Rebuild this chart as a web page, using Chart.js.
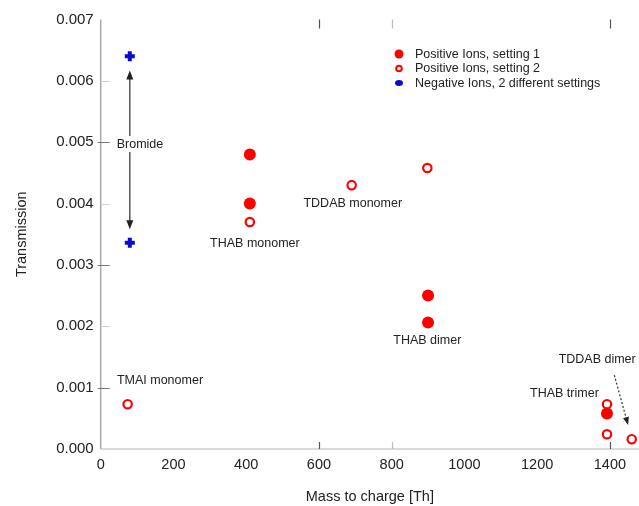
<!DOCTYPE html>
<html>
<head>
<meta charset="utf-8">
<script src="https://cdn.jsdelivr.net/npm/chart.js@4/dist/chart.umd.min.js"></script>
<style>
html,body{margin:0;padding:0;background:#fff;}
canvas{display:block;}
</style>
</head>
<body>
<canvas id="c" width="639" height="506"></canvas>
<script>
// ---- data ----
const seriesNames = ["Positive Ions, setting 1", "Positive Ions, setting 2", "Negative Ions, 2 different settings"];
const set1X = [410, 410, 900, 900, 1392];
const set1Y = [0.0048, 0.0040, 0.0025, 0.00206, 0.00058];
const set2X = [74, 410, 690, 898, 1392, 1392, 1460];
const set2Y = [0.00073, 0.0037, 0.0043, 0.00458, 0.00073, 0.00024, 0.00016];
const negX = [80, 80];
const negY = [0.0064, 0.00336];
const xTicks = [0, 200, 400, 600, 800, 1000, 1200, 1400];
const yTicks = [0, 0.001, 0.002, 0.003, 0.004, 0.005, 0.006, 0.007];
const labelTexts = ["Bromide", "THAB monomer", "TDDAB monomer", "THAB dimer", "TMAI monomer", "THAB trimer", "TDDAB dimer"];

// ---- layout of annotations (data coordinates) ----
const labelAt = [[108, 0.00497], [424, 0.003355], [693, 0.0040], [898, 0.001775], [163, 0.00112], [1275, 0.00091], [1365, 0.001466]];
const bromideArrow = [[80, 0.00617], [80, 0.00358]];
const tddabArrow = [[1412, 0.001205], [1450, 0.00039]];

const pts = (xs, ys) => xs.map((x, i) => ({x: x, y: ys[i]}));
const FONT = "'Liberation Sans', Arial, sans-serif";
const TXT = '#222';

function arrowHead(ctx, x1, y1, x2, y2, len, wid) {
  const a = Math.atan2(y2 - y1, x2 - x1);
  ctx.beginPath();
  ctx.moveTo(x2, y2);
  ctx.lineTo(x2 - len * Math.cos(a) + wid * Math.sin(a), y2 - len * Math.sin(a) - wid * Math.cos(a));
  ctx.lineTo(x2 - len * Math.cos(a) - wid * Math.sin(a), y2 - len * Math.sin(a) + wid * Math.cos(a));
  ctx.closePath();
  ctx.fill();
}

const decor = {
  id: 'decor',
  beforeDatasetsDraw(chart) {
    const {ctx, scales: {x, y}, chartArea: ca} = chart;
    ctx.save();
    // axes lines
    ctx.strokeStyle = '#dadada';
    ctx.lineWidth = 2;
    ctx.beginPath(); ctx.moveTo(ca.left, ca.bottom); ctx.lineTo(chart.width, ca.bottom); ctx.stroke();
    ctx.strokeStyle = '#a8a8a8';
    ctx.lineWidth = 1.5;
    ctx.beginPath(); ctx.moveTo(ca.left, ca.top); ctx.lineTo(ca.left, ca.bottom); ctx.stroke();
    // y ticks inside
    yTicks.forEach((v, i) => {
      if (v === 0 || v === 0.007) return;
      const py = Math.round(y.getPixelForValue(v)) + 0.5;
      const dark = (i % 2 === 1);
      ctx.strokeStyle = dark ? '#777' : '#d0d0d0';
      ctx.lineWidth = 1;
      ctx.beginPath(); ctx.moveTo(ca.left - (dark ? 3 : 0), py); ctx.lineTo(ca.left + 9, py); ctx.stroke();
    });
    // x ticks (top and bottom) visible in reference
    [600, 800, 1400].forEach((v) => {
      const px = Math.round(x.getPixelForValue(v)) + 0.5;
      ctx.strokeStyle = v === 800 ? '#bbb' : '#555';
      ctx.lineWidth = 1.2;
      ctx.beginPath(); ctx.moveTo(px, ca.top); ctx.lineTo(px, ca.top + 9); ctx.stroke();
      ctx.beginPath(); ctx.moveTo(px, ca.bottom - 7); ctx.lineTo(px, ca.bottom); ctx.stroke();
    });
    // bromide double arrow
    const bx = x.getPixelForValue(bromideArrow[0][0]);
    const by1 = y.getPixelForValue(bromideArrow[0][1]);
    const by2 = y.getPixelForValue(bromideArrow[1][1]);
    ctx.strokeStyle = '#555';
    ctx.fillStyle = '#222';
    ctx.lineWidth = 1.5;
    ctx.beginPath(); ctx.moveTo(bx, by1 + 6); ctx.lineTo(bx, by2 - 6); ctx.stroke();
    arrowHead(ctx, bx, by2, bx, by1, 9, 3.5);
    arrowHead(ctx, bx, by1, bx, by2, 9, 3.5);
    // TDDAB dimer dotted arrow
    const tx1 = x.getPixelForValue(tddabArrow[0][0]), ty1 = y.getPixelForValue(tddabArrow[0][1]);
    const tx2 = x.getPixelForValue(tddabArrow[1][0]), ty2 = y.getPixelForValue(tddabArrow[1][1]);
    ctx.setLineDash([2, 2]);
    ctx.strokeStyle = '#333';
    ctx.lineWidth = 1.2;
    ctx.beginPath(); ctx.moveTo(tx1, ty1); ctx.lineTo(tx1 + (tx2 - tx1) * 0.85, ty1 + (ty2 - ty1) * 0.85); ctx.stroke();
    ctx.setLineDash([]);
    arrowHead(ctx, tx1, ty1, tx2, ty2, 8, 3);
    // labels
    ctx.font = '12.5px ' + FONT;
    ctx.textAlign = 'center';
    ctx.textBaseline = 'middle';
    labelTexts.forEach((t, i) => {
      const px = x.getPixelForValue(labelAt[i][0]);
      const py = y.getPixelForValue(labelAt[i][1]);
      const w = ctx.measureText(t).width;
      ctx.fillStyle = '#fff';
      ctx.fillRect(px - w / 2 - 2, py - 8, w + 4, 16);
      ctx.fillStyle = TXT;
      ctx.fillText(t, px, py);
    });
    // legend
    const lx = 399, ly = [54, 68.5, 83];
    ctx.textAlign = 'left';
    seriesNames.forEach((t, i) => {
      ctx.fillStyle = TXT;
      ctx.fillText(t, 415, ly[i] + 0.5);
    });
    ctx.fillStyle = '#ff0000';
    ctx.beginPath(); ctx.arc(lx, ly[0], 4.5, 0, Math.PI * 2); ctx.fill();
    ctx.strokeStyle = '#ff0000'; ctx.lineWidth = 2; ctx.fillStyle = '#fff';
    ctx.beginPath(); ctx.arc(lx, ly[1], 2.8, 0, Math.PI * 2); ctx.fill(); ctx.stroke();
    ctx.fillStyle = '#0a0ad0';
    ctx.beginPath(); ctx.ellipse(lx, ly[2], 4, 3, 0, 0, Math.PI * 2); ctx.fill();
    ctx.restore();
  }
};

new Chart(document.getElementById('c'), {
  type: 'scatter',
  data: {
    datasets: [
      {label: seriesNames[0], data: pts(set1X, set1Y), pointStyle: 'circle', pointRadius: 6, pointHoverRadius: 6,
       backgroundColor: '#ff0000', borderColor: '#ff0000', borderWidth: 0},
      {label: seriesNames[1], data: pts(set2X, set2Y), pointStyle: 'circle', pointRadius: 4.2, pointHoverRadius: 4.2,
       backgroundColor: '#ffffff', borderColor: '#ff0000', borderWidth: 2.2},
      {label: seriesNames[2], data: pts(negX, negY), pointStyle: 'crossRot', rotation: 45, pointRadius: 5, pointHoverRadius: 5,
       backgroundColor: '#0a0ad0', borderColor: '#0a0ad0', borderWidth: 4}
    ]
  },
  options: {
    responsive: false,
    animation: false,
    devicePixelRatio: 1,
    layout: {autoPadding: false, padding: {top: 19.5, right: 0, left: 0, bottom: 0}},
    plugins: {legend: {display: false}, tooltip: {enabled: false}},
    scales: {
      x: {
        type: 'linear', min: 0, max: 1480,
        afterFit: (s) => { s.height = 57; s.paddingRight = 0; s.paddingLeft = 0; },
        afterBuildTicks: (s) => { s.ticks = xTicks.map(v => ({value: v})); },
        grid: {display: false, drawTicks: false},
        border: {display: false},
        ticks: {padding: 7, color: TXT, font: {family: FONT, size: 14.5}, maxRotation: 0, autoSkip: false,
                callback: (v) => String(v)},
        title: {display: true, text: 'Mass to charge [Th]', color: TXT, font: {family: FONT, size: 14.5}, padding: {top: -1.5, bottom: 0}}
      },
      y: {
        type: 'linear', min: 0, max: 0.007,
        afterFit: (s) => { s.width = 100.7; s.paddingTop = 0; s.paddingBottom = 0; },
        afterBuildTicks: (s) => { s.ticks = yTicks.map(v => ({value: v})); },
        grid: {display: false, drawTicks: false},
        border: {display: false},
        ticks: {padding: 7, color: TXT, font: {family: FONT, size: 15}, autoSkip: false,
                callback: (v) => Number(v).toFixed(3)},
        title: {display: true, text: 'Transmission', color: TXT, font: {family: FONT, size: 14.5}, padding: {top: 13, bottom: 0}}
      }
    }
  },
  plugins: [decor]
});
</script>
</body>
</html>
